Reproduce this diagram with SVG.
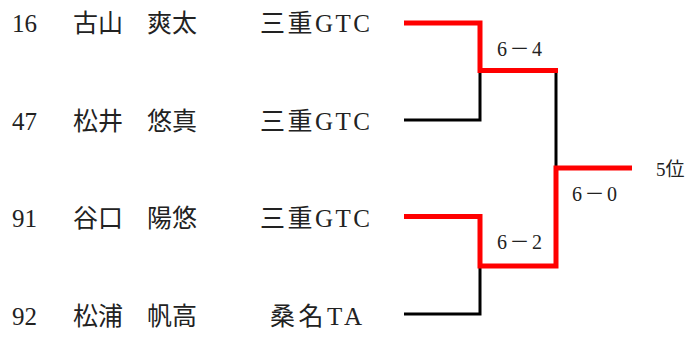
<svg xmlns="http://www.w3.org/2000/svg" width="695" height="340" viewBox="0 0 695 340">
<style>
text{font-family:"Liberation Serif","Noto Sans CJK JP",serif;fill:#222}
.p{font-size:25px}
.s{font-size:20px}
.r{font-size:19px}
.red{stroke:#ff0000;stroke-width:5;fill:none}
.blk{stroke:#000;stroke-width:3;fill:none}
</style>
<rect width="695" height="340" fill="#fff"/>
<g id="p16"><text class="p" x="12" y="32">16</text><text class="p" x="73" y="32">古山</text><text class="p" x="147" y="32">爽太</text><text class="p" x="260" y="32" textLength="110">三重GTC</text></g>
<g id="p47"><text class="p" x="12" y="130">47</text><text class="p" x="73" y="130">松井</text><text class="p" x="147" y="130">悠真</text><text class="p" x="260" y="130" textLength="110">三重GTC</text></g>
<g id="p91"><text class="p" x="12" y="227">91</text><text class="p" x="73" y="227">谷口</text><text class="p" x="147" y="227">陽悠</text><text class="p" x="260" y="227" textLength="110">三重GTC</text></g>
<g id="p92"><text class="p" x="12" y="325">92</text><text class="p" x="73" y="325">松浦</text><text class="p" x="147" y="325">帆高</text><text class="p" x="270" y="325" textLength="92">桑名TA</text></g>
<g id="connectors">
<polyline class="blk" points="404,120 480,120 480,70"/>
<polyline class="blk" points="556,70 556,168"/>
<polyline class="blk" points="404,314 480,314 480,266"/>
<polyline class="red" points="404,23 480,23 480,70.5 558,70.5"/>
<polyline class="red" points="404,216.5 480,216.5 480,266 556,266 556,168 632,168"/>
</g>
<g id="scores">
<text class="s" x="497" y="56" textLength="45">6－4</text>
<text class="s" x="497" y="249" textLength="45">6－2</text>
<text class="s" x="572" y="201" textLength="45">6－0</text>
</g>
<g id="rank"><text class="r" x="656" y="176">5位</text></g>
</svg>
